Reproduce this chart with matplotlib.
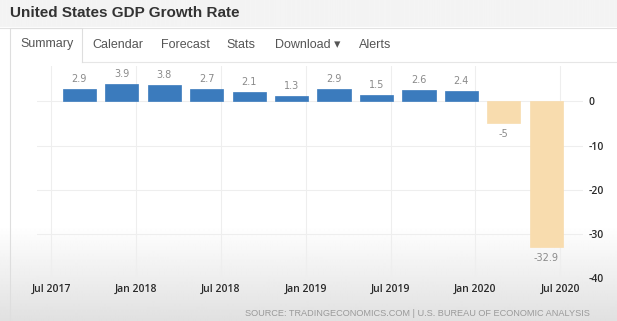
import matplotlib
matplotlib.use('Agg')
import matplotlib.pyplot as plt
import numpy as np

# GDP growth, quarterly, Q3 2017 .. Q2 2020
quarters = ['Q3 2017', 'Q4 2017', 'Q1 2018', 'Q2 2018', 'Q3 2018', 'Q4 2018',
            'Q1 2019', 'Q2 2019', 'Q3 2019', 'Q4 2019', 'Q1 2020', 'Q2 2020']
growth = [2.9, 3.9, 3.8, 2.7, 2.1, 1.3, 2.9, 1.5, 2.6, 2.4, -5, -32.9]
value_labels = ['2.9', '3.9', '3.8', '2.7', '2.1', '1.3', '2.9', '1.5', '2.6', '2.4', '-5', '-32.9']
tick_labels = ['Jul 2017', 'Jan 2018', 'Jul 2018', 'Jan 2019', 'Jul 2019', 'Jan 2020', 'Jul 2020']
y_ticks = [0, -10, -20, -30, -40]
tabs = ['Summary', 'Calendar', 'Forecast', 'Stats', 'Download \u25be', 'Alerts']
tab_x = [47, 118, 185, 241, 308, 375]

W, H = 617, 321
fig = plt.figure(figsize=(W / 100, H / 100), dpi=100)

# background: grey header band, white page, grey fade at the bottom
bg = fig.add_axes([0, 0, 1, 1], zorder=0)
fade = np.clip((np.arange(H) - 225) / (H - 225), 0, 1)
rows = 1 - 0.12 * fade
rows[:27] = 0.955
img = np.repeat(rows[:, None], 4, axis=1)
bg.imshow(img, cmap='gray', vmin=0, vmax=1, extent=[0, W, H, 0], aspect='auto', interpolation='bilinear')
bg.set_xlim(0, W)
bg.set_ylim(H, 0)
bg.axis('off')

bg.plot([0, W], [27.5, 27.5], color='#e2e2e2', lw=0.8)
bg.plot([82, W], [62, 62], color='#e6e6e6', lw=0.8)
bg.plot([9.5, 9.5, 82, 82], [H, 27.5, 27.5, 62], color='#dedede', lw=0.8)

bg.text(10, 13, 'United States GDP Growth Rate', fontsize=11, fontweight='bold',
        family='Liberation Sans', color='#333333', va='center', ha='left')
for name, x in zip(tabs, tab_x):
    bg.text(x, 44.5, name, fontsize=9, family=['Liberation Sans', 'DejaVu Sans'],
            color='#555555', va='center', ha='center')
bg.text(590, 313, 'SOURCE: TRADINGECONOMICS.COM | U.S. BUREAU OF ECONOMIC ANALYSIS',
        fontsize=6.6, family='Liberation Sans', color='#9a9a9a', va='center', ha='right')

# chart
ax = fig.add_axes([37 / W, 1 - 278 / H, (583 - 37) / W, (278 - 66) / H], zorder=1)
ax.patch.set_alpha(0)

months = np.arange(len(growth)) * 3 + 2   # months after Jul 2017
colors = ['#3b7bbd' if v > 0 else '#f8dcae' for v in growth]
ax.bar(months, growth, width=2.35, color=colors, edgecolor=colors, linewidth=0.5, zorder=2)

for m, v, lab in zip(months, growth, value_labels):
    off = 10 if v > 0 else -11
    ax.annotate(lab, (m, v), xytext=(0, off), textcoords='offset pixels',
                ha='center', va='center', fontsize=7, color='#8a8a8a', family='DejaVu Sans')

ax.set_xlim(-1, 37.6)
ax.set_ylim(-40, 8)
ax.set_xticks(np.arange(len(tick_labels)) * 6)
ax.set_xticklabels(tick_labels, fontsize=7.5, color='#2a2a2a', family='Open Sans', fontweight='semibold')
ax.set_yticks(y_ticks)
ax.set_yticklabels([str(t) for t in y_ticks], fontsize=7.5, color='#2a2a2a',
                   family='Open Sans', fontweight='semibold')
ax.yaxis.tick_right()
ax.tick_params(length=0)
ax.tick_params(axis='x', pad=4)
ax.tick_params(axis='y', pad=4)
ax.grid(True, color='#eeeeee', lw=0.8, zorder=0)
for s in ax.spines.values():
    s.set_visible(False)

plt.savefig('out.png', dpi=100)
plt.close()
